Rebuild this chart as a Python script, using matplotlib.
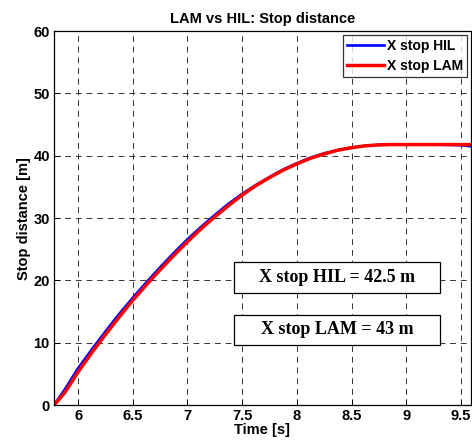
import matplotlib
matplotlib.use('Agg')
import matplotlib.pyplot as plt
from matplotlib.patches import Rectangle

# Stop distance vs time
time_s = [5.78, 5.875, 6.0, 6.125, 6.25, 6.375, 6.5, 6.625, 6.75, 6.875, 7.0, 7.125,
          7.25, 7.375, 7.5, 7.625, 7.75, 7.875, 8.0, 8.125, 8.25, 8.375, 8.5, 8.625,
          8.75, 8.875, 9.0, 9.25, 9.5, 9.6]
x_stop_hil = [0, 2.4, 5.9, 8.9, 11.8, 14.6, 17.2, 19.7, 22.1, 24.4, 26.6, 28.6,
              30.5, 32.3, 33.9, 35.3, 36.6, 37.8, 38.8, 39.7, 40.4, 40.9, 41.3, 41.6,
              41.75, 41.8, 41.8, 41.8, 41.7, 41.5]
x_stop_lam = [0, 1.9, 5.3, 8.4, 11.3, 14.1, 16.8, 19.3, 21.7, 24.0, 26.2, 28.3,
              30.2, 32.0, 33.7, 35.2, 36.5, 37.7, 38.7, 39.6, 40.3, 40.9, 41.3, 41.6,
              41.75, 41.8, 41.8, 41.8, 41.8, 41.8]

box_texts = ['X stop HIL = 42.5 m', 'X stop LAM = 43 m']

plt.rcParams['font.family'] = ['Liberation Sans', 'DejaVu Sans']
plt.rcParams['font.weight'] = 'bold'

fig = plt.figure(figsize=(4.72, 4.44), dpi=100)
ax = fig.add_axes([0.1144, 0.0878, 0.883, 0.842])

ax.plot(time_s, x_stop_hil, color='blue', lw=1.9, label='X stop HIL', solid_joinstyle='round')
ax.plot(time_s, x_stop_lam, color='red', lw=2.5, label='X stop LAM', solid_joinstyle='round')

ax.set_xlim(5.78, 9.59)
ax.set_ylim(0, 60)
ax.set_xticks([6, 6.5, 7, 7.5, 8, 8.5, 9, 9.5])
ax.set_xticklabels(['6', '6.5', '7', '7.5', '8', '8.5', '9', '9.5'])
ax.set_yticks(range(0, 61, 10))
ax.grid(True, color='black', linestyle=(0, (6, 5)), linewidth=0.7, alpha=0.8)
ax.tick_params(direction='in', length=4, width=0.7, labelsize=10.5, pad=3)
for lbl in ax.get_xticklabels() + ax.get_yticklabels():
    lbl.set_fontweight('bold')
for sp in ax.spines.values():
    sp.set_linewidth(0.9)

ax.set_title('LAM vs HIL: Stop distance', fontsize=10.5, fontweight='bold', pad=6)
ax.set_xlabel('Time [s]', fontsize=10.5, fontweight='bold', labelpad=0)
ax.set_ylabel('Stop distance [m]', fontsize=10.5, fontweight='bold', labelpad=2)

leg = ax.legend(loc='upper right', fontsize=10, frameon=True, fancybox=False,
                edgecolor='black', borderpad=0.3, handlelength=2.7,
                handletextpad=0.2, labelspacing=0.45, borderaxespad=0.25)
leg.get_frame().set_linewidth(0.9)
for t in leg.get_texts():
    t.set_fontweight('bold')

# annotation boxes
box_y = [0.2995, 0.160]
for txt, y0 in zip(box_texts, box_y):
    ax.add_patch(Rectangle((0.432, y0), 0.494, 0.082, transform=ax.transAxes,
                           facecolor='white', edgecolor='black', lw=0.9, zorder=5))
    ax.text(0.679, y0 + 0.041, txt, transform=ax.transAxes, ha='center', va='center',
            fontsize=13, fontweight='bold', family=['Liberation Serif', 'DejaVu Serif'],
            zorder=6)

fig.savefig('out.png', dpi=100)
